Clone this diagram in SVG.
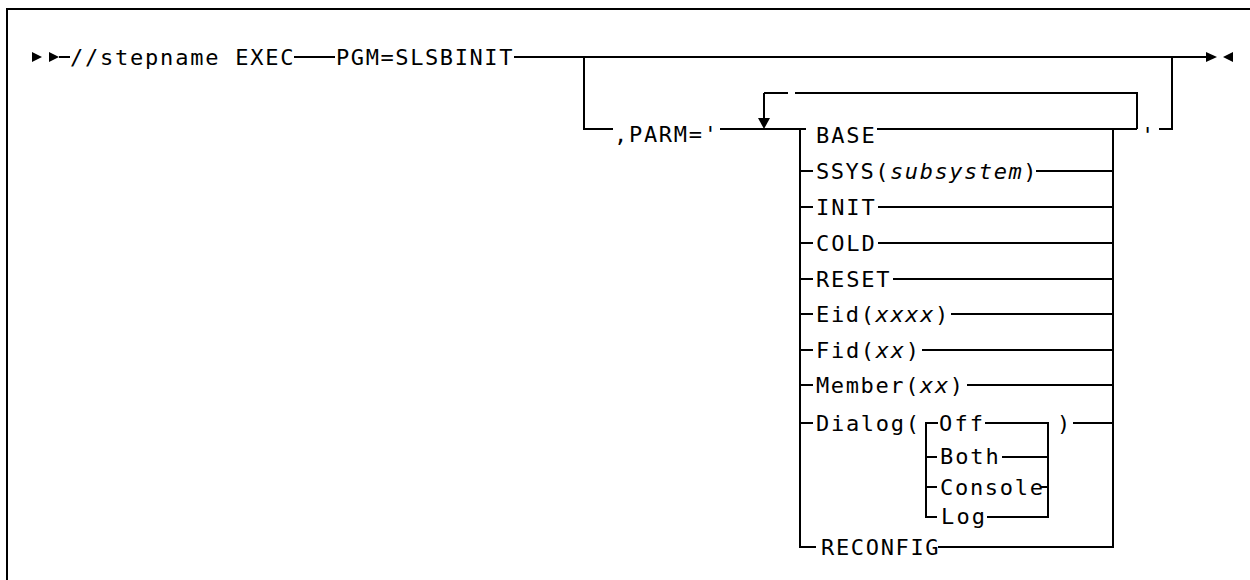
<svg xmlns="http://www.w3.org/2000/svg" width="1250" height="580" viewBox="0 0 1250 580">
<style>
.t{font-family:"DejaVu Sans Mono","Liberation Mono",monospace;font-size:22px;fill:#000}
.i{font-style:italic}
.c{fill:none;stroke:#000;stroke-width:2}
.a{fill:#000;stroke:none}
</style>
<rect x="7" y="9" width="1270" height="600" fill="#fff" stroke="#000" stroke-width="2"/>
<g id="connectors">
<path class="c" d="M59,57 H70 M294,57 H335 M514,57 H1207"/>
<path class="c" d="M584,57 V129 H613 M720,129 H806"/>
<path class="c" d="M764,93 V119 M764,93 H788 M795,93 H1137 V129"/>
<path class="c" d="M877,129 H1137 M1159,129 H1172 V57"/>
<path class="c" d="M800,129 V547 H816 M1113,129 V547 H938"/>
<path class="c" d="M800,171 H813 M1036,171 H1113"/>
<path class="c" d="M800,207 H813 M878,207 H1113"/>
<path class="c" d="M800,243 H813 M878,243 H1113"/>
<path class="c" d="M800,279 H813 M893,279 H1113"/>
<path class="c" d="M800,314 H813 M951,314 H1113"/>
<path class="c" d="M800,350 H813 M922,350 H1113"/>
<path class="c" d="M800,385 H813 M967,385 H1113"/>
<path class="c" d="M800,423 H813 M1073,423 H1113"/>
<path class="c" d="M938,423 H926 V517 H937 M926,457 H937 M926,487 H937"/>
<path class="c" d="M985,423 H1048 V517 H987 M1002,457 H1048 M1041,487 H1048"/>
<polygon class="a" points="32,52 42,57 32,62"/>
<polygon class="a" points="49,52 59,57 49,62"/>
<polygon class="a" points="758,118 770,118 764,129"/>
<polygon class="a" points="1206,52 1217,57 1206,62"/>
<polygon class="a" points="1233,52 1223,57 1233,62"/>
</g>
<g id="n-stepname"><text class="t" x="70" y="65" textLength="223.5" lengthAdjust="spacing">//stepname EXEC</text></g>
<g id="n-pgm"><text class="t" x="336" y="65" textLength="176.4" lengthAdjust="spacing">PGM=SLSBINIT</text></g>
<g id="n-parm"><text class="t" x="614" y="142" textLength="102.9" lengthAdjust="spacing">,PARM='</text></g>
<g id="n-base"><text class="t" x="816" y="143" textLength="58.8" lengthAdjust="spacing">BASE</text></g>
<g id="n-ssys"><text class="t" x="816" y="179" textLength="220.5" lengthAdjust="spacing">SSYS(<tspan class="i">subsystem</tspan>)</text></g>
<g id="n-init"><text class="t" x="816" y="215" textLength="58.8" lengthAdjust="spacing">INIT</text></g>
<g id="n-cold"><text class="t" x="816" y="251" textLength="58.8" lengthAdjust="spacing">COLD</text></g>
<g id="n-reset"><text class="t" x="816" y="287" textLength="73.5" lengthAdjust="spacing">RESET</text></g>
<g id="n-eid"><text class="t" x="816" y="322" textLength="132.3" lengthAdjust="spacing">Eid(<tspan class="i">xxxx</tspan>)</text></g>
<g id="n-fid"><text class="t" x="816" y="358" textLength="102.9" lengthAdjust="spacing">Fid(<tspan class="i">xx</tspan>)</text></g>
<g id="n-member"><text class="t" x="816" y="393" textLength="147" lengthAdjust="spacing">Member(<tspan class="i">xx</tspan>)</text></g>
<g id="n-dialog"><text class="t" x="816" y="431" textLength="102.9" lengthAdjust="spacing">Dialog(</text><text class="t" x="1057" y="431">)</text></g>
<g id="n-off"><text class="t" x="939" y="431" textLength="44.1" lengthAdjust="spacing">Off</text></g>
<g id="n-both"><text class="t" x="940" y="464" textLength="58.8" lengthAdjust="spacing">Both</text></g>
<g id="n-console"><text class="t" x="940" y="495" textLength="102.9" lengthAdjust="spacing">Console</text></g>
<g id="n-log"><text class="t" x="941" y="524" textLength="44.1" lengthAdjust="spacing">Log</text></g>
<g id="n-reconfig"><text class="t" x="821" y="555" textLength="117.6" lengthAdjust="spacing">RECONFIG</text></g>
<g id="n-quote"><text class="t" x="1141" y="143">'</text></g>
</svg>
